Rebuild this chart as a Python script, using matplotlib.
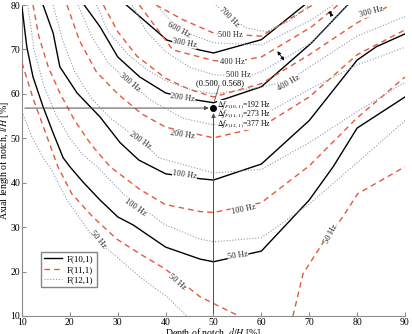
import matplotlib
matplotlib.use("Agg")
import matplotlib.pyplot as plt

plt.rcParams['font.family'] = ['Liberation Serif', 'DejaVu Serif']
plt.rcParams['mathtext.fontset'] = 'stix'

# contour lines: (depth d/H [%], axial length l/H [%])
# F(10,1) - solid black
b50_x = [10, 11, 12.3, 14.4, 16.5, 18.6, 20, 22.7, 26.3, 30, 33.2, 40, 47.2, 50, 60, 70, 75, 80, 90]
b50_y = [79.5, 70.6, 63.8, 57.1, 51.2, 45.6, 43.6, 40.2, 36.1, 32.3, 30.5, 25.5, 22.8, 22.2, 24.6, 36.1, 43.6, 52.3, 59.3]
b100_x = [14.4, 16.5, 17.9, 21.5, 26.3, 30.5, 34.4, 40, 47.2, 50, 60, 70, 80, 84, 90]
b100_y = [80, 73.7, 66.1, 60.2, 54.8, 49, 45.1, 42, 40.9, 40.6, 44.2, 54, 67.6, 70.6, 73.5]
b200_x = [23, 26.3, 30, 34.6, 40, 46.5, 50, 60, 70.5, 78]
b200_y = [80, 75.1, 68.3, 63.8, 60.2, 58.6, 58, 61.6, 71.5, 80]
b300_x = [31.8, 40.3, 47, 50, 60, 69]
b300_y = [80, 72.1, 69.9, 69.2, 72.2, 80]

# F(11,1) - red dashed
r50a_x = [10, 12.3, 14.5, 16.5, 17.5, 20.4, 24.8, 29.8, 34.6, 39.9, 47.2, 55.3]
r50a_y = [67, 59, 52.5, 46.5, 43.6, 37.5, 32.3, 27.3, 24, 20.6, 14.3, 10]
r50b_x = [66.6, 68.7, 73, 77, 80.1, 84.5, 90]
r50b_y = [10, 19.5, 26.7, 32.3, 37.5, 40.2, 43.6]
r100_x = [12.3, 13.5, 15.5, 18, 21, 24.5, 28.4, 34.6, 39.9, 47.2, 50, 60, 70, 80, 90]
r100_y = [80, 73, 66, 60, 54, 48.5, 43.6, 38.5, 35.1, 33.5, 33.3, 35.5, 43.8, 54.6, 63.8]
r200_x = [19.4, 22, 25.5, 30, 35, 40, 50, 60, 70, 80, 90]
r200_y = [80, 72, 65, 60, 55.5, 52.5, 50.1, 52.6, 59.3, 68.8, 74.4]
r300_x = [27, 30, 34, 40, 45, 50, 60, 70, 80, 87]
r300_y = [80, 74, 68.5, 63.5, 61, 59.3, 62.3, 68.8, 76, 80]
r400_x = [34.5, 41.5, 50, 54, 60, 70.5, 76]
r400_y = [80, 69.9, 67.5, 67.2, 68.3, 75.1, 80]
r500_x = [38, 43.6, 50, 55, 60, 70.7]
r500_y = [80, 76.7, 73.7, 73.3, 73, 80]

# F(12,1) - dotted
d50_x = [10, 12, 14.4, 15.8, 19.4, 24.8, 29.8, 34.6, 40.3, 44.4]
d50_y = [56, 50.5, 45.6, 43.6, 36.1, 27.8, 23.3, 18.8, 14.3, 10]
d100_x = [11.2, 12.5, 14.5, 17, 20, 22.5, 25.7, 31.1, 39.9, 47.2, 50, 60, 70, 80, 90]
d100_y = [80, 70, 62, 55.5, 50, 46.5, 43.6, 37.5, 30.5, 27.3, 26.7, 27.6, 35.2, 44.5, 54]
d200_x = [16.5, 18.5, 21, 24.5, 28.5, 34.6, 38.6, 50, 60, 70, 80, 90]
d200_y = [80, 72, 65, 59, 54.5, 49.6, 45.6, 42.2, 43, 49, 56, 62.6]
d300_x = [21.7, 24.5, 28, 32.5, 37, 43.6, 50, 60, 70, 80, 90]
d300_y = [80, 73, 67, 62.5, 58.5, 54.5, 53, 55, 61, 66.5, 70.5]
d400_x = [25.6, 28, 32, 36, 40, 45, 50, 60, 65.7, 70, 80, 90]
d400_y = [80, 74, 69, 65.5, 63, 61, 60, 61.5, 63, 66, 73, 77.4]
d500_x = [33, 36, 40, 45, 50, 57.4, 60, 70.5, 78]
d500_y = [80, 74, 69.5, 66, 64.3, 64, 65, 71.5, 80]
d600_x = [38, 42.8, 50, 60, 70.5, 75]
d600_y = [80, 74.4, 71.5, 71, 76.7, 80]
d700_x = [50.5, 53.2, 57, 61, 66, 70]
d700_y = [80, 77.3, 74.8, 74, 76.5, 80]

# contour labels: text, x, y, rotation
black_labels = [('50 Hz', 55.1, 23.7, 8), ('100 Hz', 44, 41.8, -8),
                ('200 Hz', 43.6, 59.1, -8), ('300 Hz', 44, 71.5, -10)]
red_labels = [('50 Hz', 42.4, 17.7, -40), ('50 Hz', 74.5, 28.5, 62), ('100 Hz', 56.3, 33.9, 12),
              ('200 Hz', 43.6, 50.8, -8), ('400 Hz', 54, 67.2, 0), ('500 Hz', 53.6, 73.3, 0),
              ('300 Hz', 82.9, 78.4, 15)]
dot_labels = [('50 Hz', 25.9, 27.1, -50), ('100 Hz', 33.6, 34.5, -35), ('200 Hz', 34.6, 49.6, -35),
              ('300 Hz', 32.5, 62.5, -40), ('400 Hz', 65.7, 62.5, 30), ('500 Hz', 55.3, 64.2, 0),
              ('600 Hz', 42.8, 74.4, -28), ('700 Hz', 53.2, 77.3, -45)]

red = '#e5583c'
dot = '#8c9cb4'
dash = (0, (4, 3))
dots = (0, (1, 1.6))

fig = plt.figure(figsize=(4.12, 3.34), dpi=100)
ax = fig.add_axes([0.0534, 0.054, 0.9296, 0.931])

blacks = [(b50_x, b50_y), (b100_x, b100_y), (b200_x, b200_y), (b300_x, b300_y)]
reds = [(r50a_x, r50a_y), (r50b_x, r50b_y), (r100_x, r100_y), (r200_x, r200_y),
        (r300_x, r300_y), (r400_x, r400_y), (r500_x, r500_y)]
dotted = [(d50_x, d50_y), (d100_x, d100_y), (d200_x, d200_y), (d300_x, d300_y),
          (d400_x, d400_y), (d500_x, d500_y), (d600_x, d600_y), (d700_x, d700_y)]

for i, (xs, ys) in enumerate(blacks):
    ax.plot(xs, ys, color='k', lw=1.0, label='F(10,1)' if i == 0 else None, zorder=3)
for i, (xs, ys) in enumerate(reds):
    ax.plot(xs, ys, color=red, lw=1.0, ls=dash, label='F(11,1)' if i == 0 else None, zorder=3)
for i, (xs, ys) in enumerate(dotted):
    ax.plot(xs, ys, color=dot, lw=0.8, ls=dots, label='F(12,1)' if i == 0 else None, zorder=3)

for labels in [black_labels, red_labels, dot_labels]:
    for t, x, y, r in labels:
        ax.text(x, y, t, fontsize=6, rotation=r, ha='center', va='center', color='#222222',
                zorder=4, bbox=dict(fc='white', ec='none', pad=0.2))

# design point
ax.annotate('', xy=(49.6, 56.8), xytext=(10, 56.8),
            arrowprops=dict(arrowstyle='-|>', color='0.3', lw=0.7, mutation_scale=6), zorder=5)
ax.annotate('', xy=(50, 56.3), xytext=(50, 10),
            arrowprops=dict(arrowstyle='-|>', color='0.3', lw=0.7, mutation_scale=6), zorder=5)
ax.plot(50, 56.8, 'o', color='k', ms=4, zorder=6)
ax.plot([50.2, 51.1], [58.4, 61.6], color='0.3', lw=0.6, zorder=5)
ax.text(46.3, 62.4, '(0.500, 0.568)', fontsize=6, va='center', zorder=6,
        bbox=dict(fc='white', ec='none', pad=0.1))
for t, y in [(r'$\Delta f_{F(10,1)}$=192 Hz', 57.4), (r'$\Delta f_{F(11,1)}$=273 Hz', 55.3),
             (r'$\Delta f_{F(12,1)}$=377 Hz', 53.2)]:
    ax.text(50.7, y, t, fontsize=5.6, va='center', zorder=6,
            bbox=dict(fc='white', ec='none', pad=0.0))

# spacing arrows
ax.annotate('', xy=(63, 70.1), xytext=(65.1, 67),
            arrowprops=dict(arrowstyle='<|-|>', color='k', lw=0.6, mutation_scale=5), zorder=5)
ax.annotate('', xy=(74.1, 78.9), xytext=(74.9, 77.1),
            arrowprops=dict(arrowstyle='<|-|>', color='k', lw=0.6, mutation_scale=5), zorder=5)

ax.set_xlim(10, 90)
ax.set_ylim(10, 80)
ax.set_xticks(range(10, 91, 10))
ax.set_yticks(range(10, 81, 10))
for s in ['top', 'right']:
    ax.spines[s].set_visible(False)
for s in ['left', 'bottom']:
    ax.spines[s].set_color('0.55')
ax.tick_params(direction='in', labelsize=7, color='0.55', length=3, pad=1.2)
ax.set_xlabel(r'Depth of notch, $d/H$ [%]', fontsize=7, labelpad=-0.5)
ax.set_ylabel(r'Axial length of notch, $l/H$ [%]', fontsize=7)
ax.yaxis.set_label_coords(-0.029, 0.5)
ax.legend(loc='lower left', bbox_to_anchor=(0.05, 0.093), fontsize=6.5, frameon=True,
          fancybox=False, edgecolor='0.4', handlelength=2.0, borderpad=0.35,
          labelspacing=0.2, handletextpad=0.5, borderaxespad=0)

fig.savefig('out.png', dpi=100)
